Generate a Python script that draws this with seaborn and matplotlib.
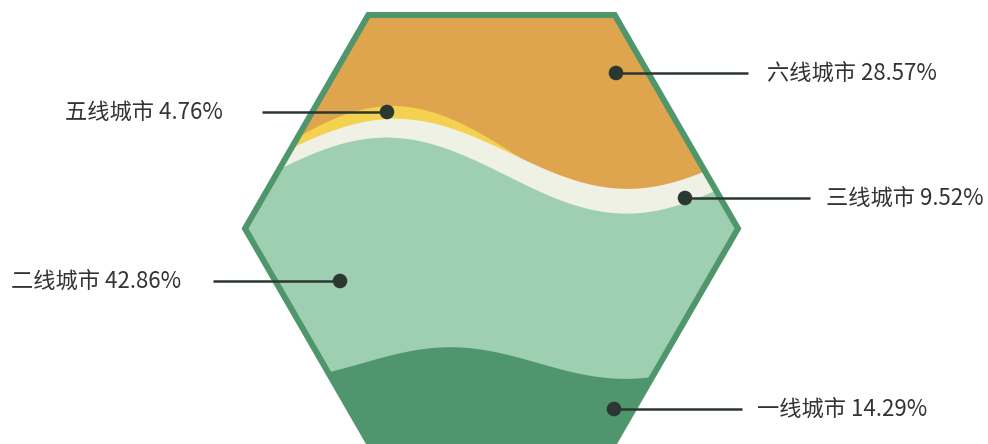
import numpy as np
import pandas as pd
import matplotlib
matplotlib.use('Agg')
import matplotlib.pyplot as plt
from matplotlib.patches import Polygon
import seaborn as sns

# data
cities = ['一线城市', '二线城市', '三线城市', '五线城市', '六线城市']
shares = [14.29, 42.86, 9.52, 4.76, 28.57]
# wave levels (0 = hexagon bottom, 1 = top)
wave_levels = [0.186, 0.625, 0.676, 0.671, 1.08]
wave_amps = [0.037, 0.089, 0.082, 0.117, 0.0]

# style
colors = ['#4f956e', '#9ecfb1', '#eef1e4', '#f4d14f', '#dea44e']
wave_len = [350, 480, 464, 500, 500]
wave_crest = [450, 386, 395, 392, 400]
border_color = '#4f966c'
dark = '#2b3832'
text_color = '#333333'

# label layout (pixel coords): dot x, dot y, line end x, text x, alignment
label_pos = {
    '一线城市': (614, 409, 742, 757, 'left'),
    '二线城市': (340, 281, 213, 181, 'right'),
    '三线城市': (685, 198, 810, 826, 'left'),
    '五线城市': (387, 112, 262, 223, 'right'),
    '六线城市': (616, 73, 748, 767, 'left'),
}

sns.set_theme(style='white')
plt.rcParams['font.family'] = ['Noto Sans CJK SC', 'DejaVu Sans']

fig = plt.figure(figsize=(9.88, 4.44), dpi=100)
ax = fig.add_axes([0, 0, 1, 1])

# hexagon
cx, cy, r = 491.5, 228.5, 246.5
hh = r * np.sqrt(3) / 2
hex_pts = [(cx - r / 2, cy - hh), (cx + r / 2, cy - hh), (cx + r, cy),
           (cx + r / 2, cy + hh), (cx - r / 2, cy + hh), (cx - r, cy)]
bottom, height = cy + hh, 2 * hh

clip = Polygon(hex_pts, closed=True, transform=ax.transData, facecolor='none', edgecolor='none')
ax.add_patch(clip)

x = np.linspace(cx - r - 5, cx + r + 5, 600)
# draw back to front: highest wave first
for i in range(len(cities) - 1, -1, -1):
    y = bottom - height * (wave_levels[i] + wave_amps[i] * np.cos(2 * np.pi * (x - wave_crest[i]) / wave_len[i]))
    poly = ax.fill_between(x, y, bottom + 20, color=colors[i], linewidth=0, zorder=2)
    poly.set_clip_path(clip)

border = Polygon(hex_pts, closed=True, facecolor='none', edgecolor=border_color,
                 linewidth=4.3, joinstyle='miter', zorder=3)
ax.add_patch(border)

# leader lines and labels
dots = pd.DataFrame({
    'x': [label_pos[c][0] for c in cities],
    'y': [label_pos[c][1] for c in cities],
})
for c, s in zip(cities, shares):
    dx, dy, lx, tx, ha = label_pos[c]
    ax.plot([dx, lx], [dy, dy], color=dark, linewidth=1.8, zorder=4, solid_capstyle='butt')
    ax.text(tx, dy, f'{c} {s:.2f}%', ha=ha, va='center', fontsize=16, color=text_color, zorder=5)
sns.scatterplot(data=dots, x='x', y='y', ax=ax, s=110, color=dark, edgecolor='none', zorder=6, legend=False)
ax.set_xlim(0, 988)
ax.set_ylim(444, 0)
ax.axis('off')

fig.savefig('out.png', dpi=100)
